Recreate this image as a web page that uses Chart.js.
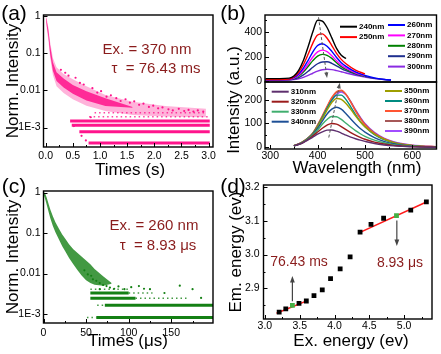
<!DOCTYPE html>
<html>
<head>
<meta charset="utf-8">
<script src="https://cdn.jsdelivr.net/npm/chart.js@4/dist/chart.umd.min.js"></script>
<style>
html, body { margin: 0; padding: 0; background: #fff; }
#wrap { position: relative; width: 441px; height: 354px; overflow: hidden; font-family: 'Liberation Sans', Arial, sans-serif; color: #000; }
canvas { position: absolute; left: 0; top: 0; }
.t { position: absolute; white-space: nowrap; line-height: 1; transform: translate(-50%, -50%); }
.r { transform: translate(-50%, -50%) rotate(-90deg); }
.ax { font-size: 17px; }
.pl { font-size: 21px; }
.note { color: #8a1c1c; font-size: 15px; }
.note2 { color: #8a1c1c; font-size: 14px; }
</style>
</head>
<body>
<div id="wrap">
  <canvas id="chartA" width="441" height="354"></canvas>
  <canvas id="chartB1" width="441" height="354"></canvas>
  <canvas id="chartB2" width="441" height="354"></canvas>
  <canvas id="chartC" width="441" height="354"></canvas>
  <canvas id="chartD" width="441" height="354"></canvas>

  <div class="t pl" style="left:14px;top:12px">(a)</div>
  <div class="t pl" style="left:233px;top:12px">(b)</div>
  <div class="t pl" style="left:14px;top:185px">(c)</div>
  <div class="t pl" style="left:233px;top:185px">(d)</div>

  <div class="t ax r" style="left:12px;top:81px">Norm. Intensity</div>
  <div class="t ax" style="left:130px;top:169px">Times (s)</div>
  <div class="t note" style="left:147px;top:48px">Ex. = 370 nm</div>
  <div class="t note" style="left:156px;top:67px">τ&nbsp; = 76.43 ms</div>

  <div class="t ax r" style="left:233px;top:100px">Intensity (a.u.)</div>
  <div class="t ax" style="left:357px;top:167px">Wavelength (nm)</div>

  <div class="t ax r" style="left:12px;top:257px">Norm. Intensity</div>
  <div class="t ax" style="left:128px;top:340px">Times (μs)</div>
  <div class="t note" style="left:154px;top:224px">Ex. = 260 nm</div>
  <div class="t note" style="left:158px;top:244px">τ&nbsp; = 8.93 μs</div>

  <div class="t ax r" style="left:235px;top:252px">Em. energy (ev)</div>
  <div class="t ax" style="left:351px;top:340px">Ex. energy (ev)</div>
  <div class="t note2" style="left:299px;top:261px">76.43 ms</div>
  <div class="t note2" style="left:400px;top:262px">8.93 μs</div>
</div>

<script>
// ---- (a) decay, Ex. = 370 nm ----
const aT = [0, 0.02, 0.05, 0.083, 0.133, 0.2, 0.33, 0.5, 0.75, 1.1, 1.6, 2.2, 2.95];
const aHaloHi = [1.08, 0.85, 0.5, 0.2, 0.075, 0.042, 0.028, 0.02, 0.013, 0.0075, 0.005, 0.0038, 0.0032];
const aHaloLo = [0.9, 0.45, 0.22, 0.075, 0.026, 0.013, 0.0085, 0.0058, 0.0039, 0.0028, 0.0022, 0.002, 0.0019];
const aCoreHi = [1.02, 0.75, 0.42, 0.16, 0.058, 0.031, 0.021, 0.014, 0.0095, 0.0062, 0.0036];
const aCoreLo = [0.95, 0.55, 0.28, 0.095, 0.034, 0.018, 0.012, 0.0081, 0.0054, 0.0038, 0.0034];
const aBandLevel = [3.85e-4, 7.7e-4, 1.15e-3, 1.5e-3];
const aBandFrom = [0.79, 0.62, 0.48, 0.45];
const aBandTo = [3.02, 3.02, 3.02, 3.02];
const aDotLevel = [1.95e-3, 2.5e-3];
const aDotFrom = [0.8, 0.9];
const aDotTo = [3.0, 2.95];
const aDotsT = [0.28, 0.36, 0.42, 0.55, 0.63, 0.7, 0.86, 0.95, 1.02, 1.12, 1.2, 1.3, 1.38, 1.47, 1.55, 1.63, 1.72, 1.8, 1.9, 1.98, 2.07, 2.15, 2.26, 2.34, 2.45, 2.55, 2.63, 2.72, 2.8, 2.9, 0.52, 0.66, 0.74, 0.83];
const aDotsV = [0.036, 0.03, 0.025, 0.022, 0.016, 0.0145, 0.0115, 0.0088, 0.0096, 0.0068, 0.0074, 0.0062, 0.0052, 0.0058, 0.0047, 0.0051, 0.0041, 0.0044, 0.0036, 0.0039, 0.0033, 0.0035, 0.0031, 0.0029, 0.0032, 0.0028, 0.003, 0.0027, 0.0029, 0.0027, 0.0011, 0.0006, 0.00045, 0.0019];
const aXTicks = [0, 0.5, 1, 1.5, 2, 2.5, 3];

// ---- (c) decay, Ex. = 260 nm ----
const cT = [0, 2, 4, 6, 8, 11, 14, 18, 22, 26, 30, 35, 40, 45, 50, 55, 60, 70, 80];
const cHi = [1.05, 0.95, 0.72, 0.52, 0.38, 0.26, 0.185, 0.13, 0.092, 0.07, 0.053, 0.04, 0.032, 0.026, 0.021, 0.017, 0.013, 0.0085, 0.0058];
const cLo = [0.9, 0.68, 0.48, 0.33, 0.23, 0.15, 0.105, 0.07, 0.047, 0.034, 0.024, 0.017, 0.012, 0.0088, 0.0068, 0.0058, 0.0053, 0.005, 0.0056];
const cBandLevel = [8.2e-4, 1.64e-3, 2.46e-3, 3.28e-3];
const cBandFrom = [62, 72, 55, 55];
const cBandTo = [199, 199, 108, 100];
const cDotLevel = [8.2e-4, 1.64e-3, 2.46e-3, 3.28e-3, 4.1e-3];
const cDotFrom = [51, 63, 108, 100, 55];
const cDotTo = [62, 72, 170, 128, 100];
const cDotsT = [48, 52, 56, 58, 62, 66, 70, 74, 78, 83, 88, 95, 103, 112, 118, 125, 160, 175, 142, 185, 66, 80];
const cDotsV = [0.012, 0.0095, 0.0088, 0.0072, 0.0066, 0.0058, 0.0052, 0.0049, 0.0045, 0.0042, 0.0048, 0.0041, 0.0046, 0.0049, 0.0042, 0.0041, 0.005, 0.0041, 0.0033, 0.0025, 0.0041, 0.0033];
const cXTicks = [0, 50, 100, 150];

const logTicks = [0.001, 0.01, 0.1, 1];
const logLabels = ['1E-3', '0.01', '0.1', '1'];

// ---- (b) emission spectra ----
const waveTop = [290, 300, 320, 340, 350, 360, 370, 380, 390, 400, 410, 420, 430, 440, 450, 460, 480, 500, 520, 540, 555];
const topLabels = ['240nm', '250nm', '260nm', '270nm', '280nm', '290nm', '300nm'];
const em240 = [20, 20, 20, 24, 42, 88, 168, 282, 405, 500, 492, 440, 355, 268, 212, 185];
const em250 = [12, 12, 12, 16, 35, 72, 135, 220, 312, 378, 388, 352, 292, 228, 178, 142, 90, 58];
const em260 = [10, 10, 10, 14, 29, 58, 106, 170, 240, 292, 306, 286, 244, 193, 151, 121, 76, 46, 26, 14, 8];
const em270 = [10, 10, 10, 13, 25, 48, 88, 140, 198, 240, 254, 241, 208, 166, 131, 106, 68, 43];
const em280 = [10, 10, 10, 12, 22, 42, 75, 120, 168, 205, 219, 211, 186, 151, 119, 96, 63, 41];
const em290 = [8, 8, 8, 10, 16, 28, 50, 80, 113, 142, 157, 158, 146, 125, 103, 85, 58, 38, 22, 12, 7];
const em300 = [8, 8, 8, 9, 12, 19, 30, 46, 64, 81, 93, 97, 94, 86, 76, 66, 48, 33, 20, 12, 7];

const waveBot = [350, 360, 370, 380, 390, 400, 410, 420, 430, 440, 450, 460, 470, 480, 490, 500, 520, 540, 560, 580, 600, 620, 650];
const botLabels = ['310nm', '320nm', '330nm', '340nm', '350nm', '360nm', '370nm', '380nm', '390nm'];
const em310 = [6, 12, 20, 31, 43, 55, 65, 72, 73, 68, 60, 51, 43, 36, 30, 25, 16, 10, 6, 4, 2, 1, 0];
const em320 = [6, 12, 21, 33, 48, 64, 80, 93, 100, 97, 87, 74, 62, 51, 42, 34, 22, 14, 8, 5, 3, 2, 1];
const em330 = [6, 12, 22, 35, 52, 73, 97, 117, 129, 128, 117, 101, 85, 70, 57, 46, 30, 19, 11, 7, 4, 2, 1];
const em340 = [6, 13, 23, 37, 55, 80, 110, 140, 160, 168, 160, 141, 119, 98, 79, 64, 41, 25, 15, 9, 5, 3, 2];
const em350 = [7, 13, 24, 38, 57, 86, 120, 156, 188, 205, 201, 184, 159, 132, 107, 86, 55, 34, 20, 12, 7, 4, 2];
const em360 = [7, 13, 24, 39, 58, 89, 126, 164, 198, 219, 219, 200, 170, 137, 109, 86, 53, 32, 19, 11, 7, 4, 2];
const em370 = [7, 14, 25, 40, 60, 94, 132, 172, 209, 234, 240, 222, 189, 152, 120, 94, 58, 35, 21, 12, 8, 5, 3];
const em380 = [7, 14, 25, 40, 59, 92, 130, 169, 206, 230, 237, 222, 191, 155, 124, 97, 60, 37, 22, 13, 8, 5, 3];
const em390 = [7, 14, 24, 38, 57, 89, 125, 162, 197, 221, 232, 220, 192, 158, 127, 100, 63, 39, 24, 15, 9, 6, 3];
const waveTicks = [300, 400, 500, 600];

const topColors = ['#000000', '#ff0000', '#0000ff', '#ff00ff', '#008000', '#1f2f8f', '#8a2be2'];
const botColors = ['#5e2f6e', '#9b1b1b', '#3fae6e', '#1d4f96', '#9e9e00', '#008b80', '#ff5533', '#a65858', '#a24dff'];

// ---- (d) Em. energy vs Ex. energy ----
const exEnergy = [3.205, 3.30, 3.395, 3.49, 3.595, 3.705, 3.824, 3.943, 4.081, 4.224, 4.367, 4.524, 4.705, 4.89, 5.095, 5.319];
const emEnergy = [2.830, 2.840, 2.850, 2.856, 2.863, 2.879, 2.896, 2.929, 2.958, 2.993, 3.066, 3.089, 3.107, 3.115, 3.131, 3.155];
const highlightIdx = [2, 13];
const fitLowX = [3.167, 3.619];
const fitLowY = [2.827, 2.865];
const fitHighX = [4.343, 5.343];
const fitHighY = [3.063, 3.157];
const dXTicks = [3.0, 3.5, 4.0, 4.5, 5.0];
const dYTicks = [2.9, 3.0, 3.1, 3.2];

const PINK = '255,20,140';
const GREEN = '20,128,20';

Chart.defaults.font.family = "'Liberation Sans', Arial, sans-serif";
Chart.defaults.color = '#000';
Chart.defaults.animation = false;
Chart.defaults.plugins.legend.display = false;
Chart.defaults.plugins.tooltip.enabled = false;

const pts = (xs, ys) => ys.map((y, i) => ({ x: xs[i], y: y }));

// frame around plot + short inward tick marks
function framePlugin(opts) {
  return {
    id: 'frame',
    afterDraw(chart) {
      const { ctx, chartArea: a, scales } = chart;
      ctx.save();
      ctx.strokeStyle = '#000';
      ctx.lineWidth = 1;
      ctx.beginPath();
      const marks = (scale, horizontal) => {
        const vals = scale.ticks.map(t => t.value);
        let list = vals.map(v => [v, 4]);
        if (scale.type === 'linear' && vals.length > 1) {
          const step = vals[1] - vals[0];
          for (let v = vals[0] - step / 2; v <= scale.max; v += step) {
            if (v >= scale.min) list.push([v, 2]);
          }
        }
        list.forEach(([v, len]) => {
          const p = Math.round(scale.getPixelForValue(v)) + 0.5;
          if (horizontal) { ctx.moveTo(p, a.bottom); ctx.lineTo(p, a.bottom - len); }
          else { ctx.moveTo(a.left, p); ctx.lineTo(a.left + len, p); }
        });
      };
      if (opts.xTicks) marks(scales.x, true);
      marks(scales.y, false);
      ctx.stroke();
      ctx.lineWidth = 1.4;
      ctx.strokeRect(a.left, a.top, a.width, a.height);
      ctx.restore();
    }
  };
}

function arrowPlugin(list) {
  return {
    id: 'arrows',
    afterDatasetsDraw(chart) {
      const { ctx, scales: { x, y } } = chart;
      list.forEach(ar => {
        const x1 = x.getPixelForValue(ar.x1), y1 = y.getPixelForValue(ar.y1);
        const x2 = x.getPixelForValue(ar.x2), y2 = y.getPixelForValue(ar.y2);
        ctx.save();
        ctx.strokeStyle = ar.color;
        ctx.fillStyle = ar.color;
        ctx.lineWidth = ar.width;
        ctx.setLineDash(ar.dash || []);
        const ang = Math.atan2(y2 - y1, x2 - x1);
        ctx.beginPath();
        ctx.moveTo(x1, y1);
        ctx.lineTo(x2 - ar.head * 0.7 * Math.cos(ang), y2 - ar.head * 0.7 * Math.sin(ang));
        ctx.stroke();
        ctx.setLineDash([]);
        ctx.beginPath();
        ctx.moveTo(x2, y2);
        ctx.lineTo(x2 - ar.head * Math.cos(ang - 0.35), y2 - ar.head * Math.sin(ang - 0.35));
        ctx.lineTo(x2 - ar.head * Math.cos(ang + 0.35), y2 - ar.head * Math.sin(ang + 0.35));
        ctx.closePath();
        ctx.fill();
        ctx.restore();
      });
    }
  };
}

// two-column legend drawn at given page positions
function legendPlugin(cols) {
  return {
    id: 'cols',
    afterDraw(chart) {
      const ctx = chart.ctx;
      ctx.save();
      ctx.font = "bold 8px 'Liberation Sans', Arial, sans-serif";
      ctx.textBaseline = 'middle';
      cols.forEach(col => {
        col.idx.forEach((di, r) => {
          const ds = chart.data.datasets[di];
          const yy = col.y + r * col.dy;
          ctx.strokeStyle = ds.borderColor;
          ctx.lineWidth = 2;
          ctx.beginPath();
          ctx.moveTo(col.x, yy);
          ctx.lineTo(col.x + 17, yy);
          ctx.stroke();
          ctx.fillStyle = '#000';
          ctx.fillText(ds.label, col.x + 19, yy);
        });
      });
      ctx.restore();
    }
  };
}

function xAxis(min, max, ticks, fmt, h, pad, show) {
  return {
    type: 'linear', min: min, max: max,
    grid: { display: false, drawTicks: false }, border: { display: false },
    ticks: { display: show, padding: pad, maxRotation: 0, minRotation: 0, autoSkip: false,
             font: { size: 10.5 }, color: '#000', callback: fmt },
    afterBuildTicks: s => { s.ticks = ticks.map(v => ({ value: v })); },
    afterFit: s => { s.height = h; }
  };
}

function yAxis(type, min, max, ticks, fmt, w, pad) {
  return {
    type: type, min: min, max: max,
    grid: { display: false, drawTicks: false }, border: { display: false },
    ticks: { padding: pad, autoSkip: false, font: { size: 10.5 }, color: '#000', callback: fmt },
    afterBuildTicks: s => { s.ticks = ticks.map(v => ({ value: v })); },
    afterFit: s => { s.width = w; }
  };
}

function box(b) {
  return { padding: { left: b.L - b.yw, top: b.T, right: 441 - b.R, bottom: 354 - b.B - b.xh } };
}

const logFmt = v => { const i = logTicks.findIndex(t => Math.abs(t - v) / t < 1e-6); return i < 0 ? '' : logLabels[i]; };

function fillPair(hi, lo, xs, color) {
  return [
    { data: pts(xs, hi), fill: '+1', backgroundColor: color, borderWidth: 0, pointRadius: 0 },
    { data: pts(xs, lo), fill: false, borderWidth: 0, pointRadius: 0 }
  ];
}

function bandSets(levels, from, to, color, width, dash) {
  return levels.map((lv, i) => ({
    data: [{ x: from[i], y: lv }, { x: to[i], y: lv }],
    borderColor: color, borderWidth: width, borderDash: dash, pointRadius: 0, fill: false
  }));
}

function dotSet(xs, ys, color) {
  return { data: pts(xs, ys), showLine: false, pointRadius: 1.1, pointBackgroundColor: color, pointBorderWidth: 0 };
}

// ---------- chart (a) ----------
const boxA = { L: 43.5, T: 15, R: 213, B: 147, yw: 30, xh: 18 };
new Chart(document.getElementById('chartA'), {
  type: 'line',
  data: {
    datasets: [
      ...fillPair(aHaloHi, aHaloLo, aT, `rgba(${PINK},0.32)`),
      ...fillPair(aCoreHi, aCoreLo, aT, `rgba(${PINK},0.85)`),
      ...bandSets(aBandLevel, aBandFrom, aBandTo, `rgb(${PINK})`, 3, []),
      ...bandSets(aDotLevel, aDotFrom, aDotTo, `rgba(${PINK},0.8)`, 1.5, [1.5, 3]),
      dotSet(aDotsT, aDotsV, `rgb(${PINK})`)
    ]
  },
  options: {
    responsive: false,
    layout: box(boxA),
    scales: {
      x: xAxis(-0.04, 3.08, aXTicks, v => v.toFixed(1), boxA.xh, 3, true),
      y: yAxis('logarithmic', 3.2e-4, 1.08, logTicks, logFmt, boxA.yw, 3)
    }
  },
  plugins: [framePlugin({ xTicks: true })]
});

// ---------- chart (c) ----------
const boxC = { L: 43.5, T: 191, R: 213, B: 323, yw: 30, xh: 18 };
new Chart(document.getElementById('chartC'), {
  type: 'line',
  data: {
    datasets: [
      ...fillPair(cHi, cLo, cT, `rgba(${GREEN},0.8)`),
      ...bandSets(cBandLevel, cBandFrom, cBandTo, `rgb(${GREEN})`, 3, []),
      ...bandSets(cDotLevel, cDotFrom, cDotTo, `rgba(${GREEN},0.8)`, 1.5, [1.5, 3]),
      dotSet(cDotsT, cDotsV, `rgb(${GREEN})`)
    ]
  },
  options: {
    responsive: false,
    layout: box(boxC),
    scales: {
      x: xAxis(0, 199, cXTicks, v => String(v), boxC.xh, 4, true),
      y: yAxis('logarithmic', 6.3e-4, 1.09, logTicks, logFmt, boxC.yw, 3)
    }
  },
  plugins: [framePlugin({ xTicks: true })]
});

// ---------- chart (b), upper part ----------
const topSeries = [em240, em250, em260, em270, em280, em290, em300];
const boxB1 = { L: 265, T: 15, R: 436.5, B: 82, yw: 30, xh: 0 };
new Chart(document.getElementById('chartB1'), {
  type: 'line',
  data: {
    datasets: topSeries.map((s, i) => ({
      label: topLabels[i], data: pts(waveTop, s), borderColor: topColors[i],
      borderWidth: 1.4, pointRadius: 0, cubicInterpolationMode: 'monotone', fill: false
    }))
  },
  options: {
    responsive: false,
    layout: box(boxB1),
    scales: {
      x: xAxis(289, 651, waveTicks, v => String(v), 0, 0, false),
      y: yAxis('linear', -8, 543, [0, 200, 400], v => String(v), boxB1.yw, 3)
    }
  },
  plugins: [
    framePlugin({ xTicks: false }),
    arrowPlugin([{ x1: 402, y1: 524, x2: 420, y2: 24, color: '#555', width: 1, dash: [3, 2], head: 6 }]),
    legendPlugin([
      { x: 340, y: 26.7, dy: 10.4, idx: [0, 1] },
      { x: 388, y: 25, dy: 10.4, idx: [2, 3, 4, 5, 6] }
    ])
  ]
});

// ---------- chart (b), lower part ----------
const botSeries = [em310, em320, em330, em340, em350, em360, em370, em380, em390];
const boxB2 = { L: 265, T: 82, R: 436.5, B: 149, yw: 30, xh: 14 };
new Chart(document.getElementById('chartB2'), {
  type: 'line',
  data: {
    datasets: botSeries.map((s, i) => ({
      label: botLabels[i], data: pts(waveBot, s), borderColor: botColors[i],
      borderWidth: 1.4, pointRadius: 0, cubicInterpolationMode: 'monotone', fill: false
    }))
  },
  options: {
    responsive: false,
    layout: box(boxB2),
    scales: {
      x: xAxis(289, 651, waveTicks, v => String(v), boxB2.xh, 1, true),
      y: yAxis('linear', -7, 274, [0, 100, 200], v => String(v), boxB2.yw, 3)
    }
  },
  plugins: [
    framePlugin({ xTicks: true }),
    arrowPlugin([{ x1: 423.6, y1: 41, x2: 447, y2: 271, color: '#555', width: 1, dash: [3, 2], head: 6 }]),
    legendPlugin([
      { x: 271.7, y: 91.7, dy: 10, idx: [0, 1, 2, 3] },
      { x: 385, y: 91, dy: 10, idx: [4, 5, 6, 7, 8] }
    ])
  ]
});

// ---------- chart (d) ----------
const boxD = { L: 263.5, T: 185, R: 432, B: 319, yw: 30, xh: 14 };
new Chart(document.getElementById('chartD'), {
  type: 'line',
  data: {
    datasets: [
      { data: pts(exEnergy, emEnergy), showLine: false, pointStyle: 'rect', pointRadius: 3.4,
        pointBorderWidth: 0,
        pointBackgroundColor: c => highlightIdx.includes(c.dataIndex) ? '#45b045' : '#000' },
      { data: pts(fitLowX, fitLowY), borderColor: '#ff1a1a', borderWidth: 1.5, pointRadius: 0, fill: false },
      { data: pts(fitHighX, fitHighY), borderColor: '#ff1a1a', borderWidth: 1.5, pointRadius: 0, fill: false }
    ]
  },
  options: {
    responsive: false,
    layout: box(boxD),
    scales: {
      x: xAxis(2.98, 5.4, dXTicks, v => v.toFixed(1), boxD.xh, 1, true),
      y: yAxis('linear', 2.81, 3.205, dYTicks, v => v.toFixed(1), boxD.yw, 4)
    }
  },
  plugins: [
    framePlugin({ xTicks: true }),
    arrowPlugin([
      { x1: 3.395, y1: 2.862, x2: 3.395, y2: 2.937, color: '#444', width: 1.2, head: 7 },
      { x1: 4.895, y1: 3.10, x2: 4.895, y2: 3.025, color: '#444', width: 1.2, head: 7 }
    ])
  ]
});
</script>
</body>
</html>
